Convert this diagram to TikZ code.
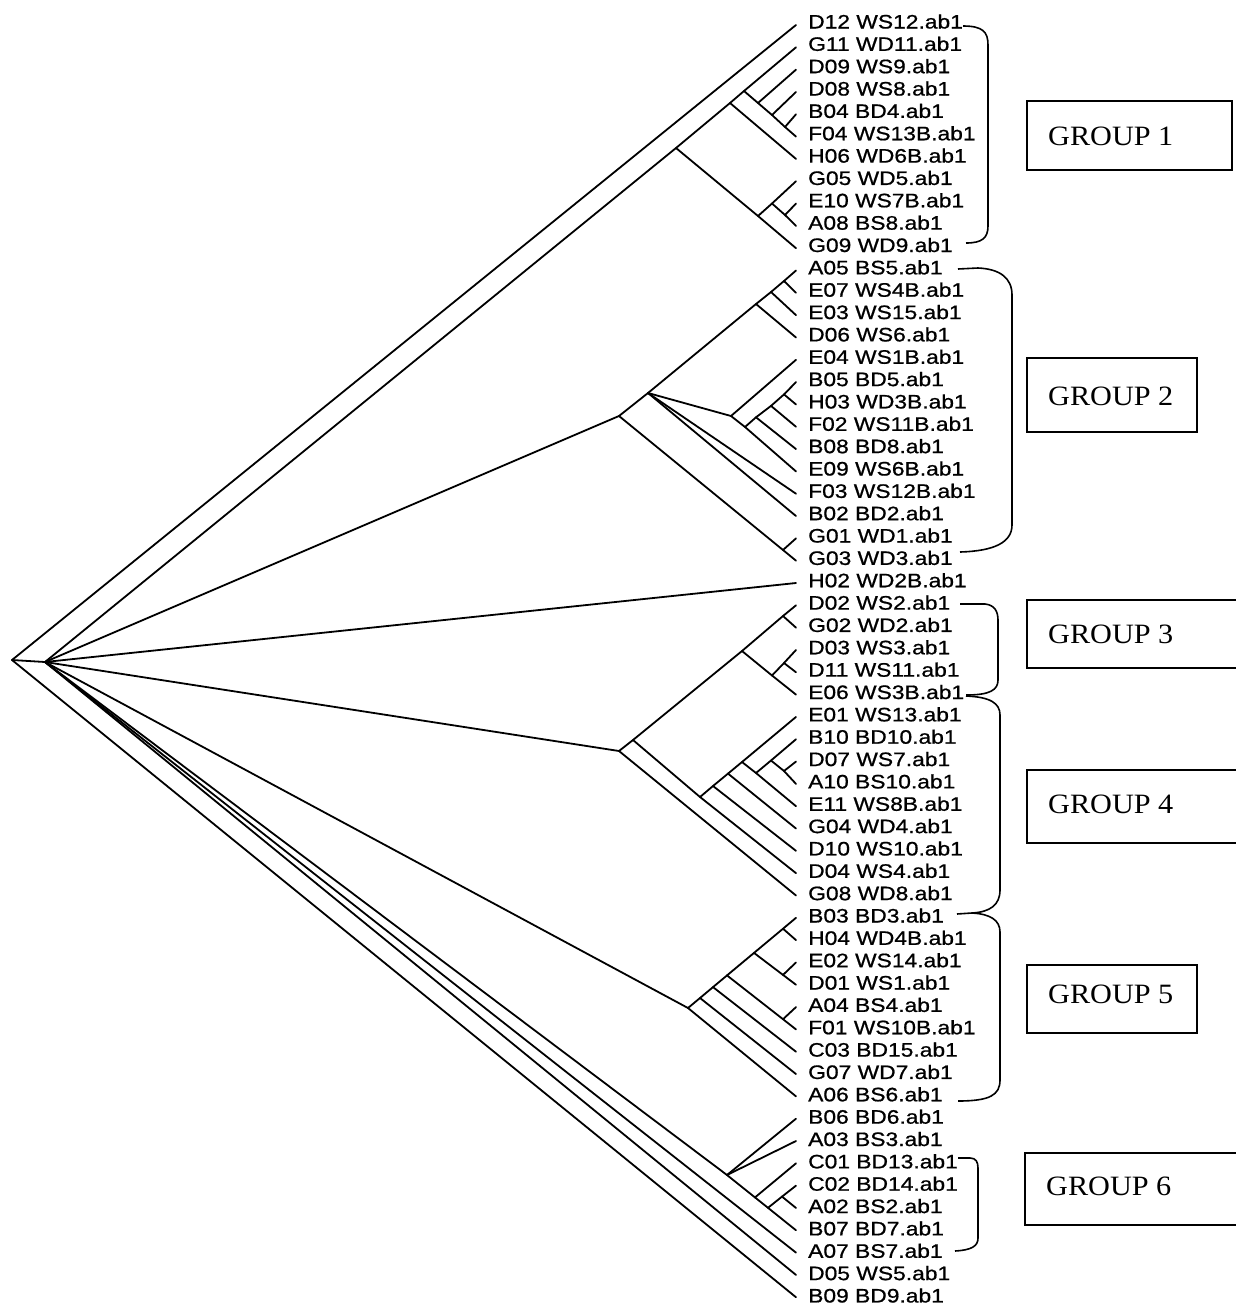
\documentclass[tikz,border=0pt]{standalone}
\usepackage{fontspec}
\newfontfamily\labfont[FakeStretch=1.17,FakeBold=0.8]{Liberation Sans}
\newfontfamily\grpfont[FakeStretch=1.08]{Liberation Serif}
\begin{document}
\begin{tikzpicture}[x=1pt,y=-1pt,
  br/.style={line width=1.8pt,line cap=round,line join=round},
  lab/.style={font=\labfont\fontsize{19.5}{20}\selectfont,inner sep=0pt,anchor=base west},
  grp/.style={font=\grpfont\fontsize{28}{30}\selectfont,inner sep=0pt,anchor=base west},
  gbox/.style={line width=1.3pt},
  brk/.style={line width=1.6pt}]
\useasboundingbox (0,0) rectangle (1236,1304);
% leaves
\foreach \t [count=\i from 0] in {D12 WS12.ab1,G11 WD11.ab1,D09 WS9.ab1,D08 WS8.ab1,B04 BD4.ab1,F04 WS13B.ab1,H06 WD6B.ab1,G05 WD5.ab1,E10 WS7B.ab1,A08 BS8.ab1,G09 WD9.ab1,
A05 BS5.ab1,E07 WS4B.ab1,E03 WS15.ab1,D06 WS6.ab1,E04 WS1B.ab1,B05 BD5.ab1,H03 WD3B.ab1,F02 WS11B.ab1,B08 BD8.ab1,E09 WS6B.ab1,F03 WS12B.ab1,B02 BD2.ab1,G01 WD1.ab1,G03 WD3.ab1,
H02 WD2B.ab1,D02 WS2.ab1,G02 WD2.ab1,D03 WS3.ab1,D11 WS11.ab1,E06 WS3B.ab1,E01 WS13.ab1,B10 BD10.ab1,D07 WS7.ab1,A10 BS10.ab1,E11 WS8B.ab1,G04 WD4.ab1,D10 WS10.ab1,D04 WS4.ab1,G08 WD8.ab1,
B03 BD3.ab1,H04 WD4B.ab1,E02 WS14.ab1,D01 WS1.ab1,A04 BS4.ab1,F01 WS10B.ab1,C03 BD15.ab1,G07 WD7.ab1,A06 BS6.ab1,
B06 BD6.ab1,A03 BS3.ab1,C01 BD13.ab1,C02 BD14.ab1,A02 BS2.ab1,B07 BD7.ab1,A07 BS7.ab1,D05 WS5.ab1,B09 BD9.ab1}
{
  \coordinate (l\i) at (796,25+22.32*\i);
  \node[lab] (t\i) at (808,28.5+22.35*\i) {\t};
}
% internal nodes
\coordinate (R) at (12,660);
\coordinate (N1) at (45,662);
\coordinate (A1) at (676,148);
\coordinate (A2) at (730,103);
\coordinate (A3) at (744,91);
\coordinate (C1) at (758,103);
\coordinate (C2) at (772,115);
\coordinate (C3) at (785,127);
\coordinate (B1) at (758,216);
\coordinate (B2) at (772,203.5);
\coordinate (B3) at (785,215);
\coordinate (G2a) at (619,416);
\coordinate (G2b) at (648,393);
\coordinate (G2c) at (756,304);
\coordinate (G2d) at (771,292);
\coordinate (G2e) at (784,281);
\coordinate (G2f) at (731,416);
\coordinate (G2g) at (745,427);
\coordinate (G2h) at (756,417.3);
\coordinate (G2i) at (771,405.9);
\coordinate (G2j) at (784,394.4);
\coordinate (G2z) at (783,550);
\coordinate (G34) at (619,751);
\coordinate (G34b) at (633,740);
\coordinate (G3) at (742,651);
\coordinate (G3u) at (783,616);
\coordinate (G3d) at (772,675.5);
\coordinate (G3dd) at (784,663);
\coordinate (G4a) at (700,797);
\coordinate (G4b) at (713,786);
\coordinate (G4c) at (728,773.6);
\coordinate (G4d) at (742,762);
\coordinate (G4e) at (756,773);
\coordinate (G4f) at (771,760.5);
\coordinate (G4g) at (784,771);
\coordinate (G5a) at (688,1008);
\coordinate (G5b) at (700,998);
\coordinate (G5c) at (713,987.1);
\coordinate (G5d) at (727,975.4);
\coordinate (G5e) at (754,952.9);
\coordinate (G5g) at (783,928.7);
\coordinate (G5h) at (783,974.9);
\coordinate (G5f) at (783,1019.2);
\coordinate (G6a) at (727,1175);
\coordinate (G6b) at (755,1197.4);
\coordinate (G6c) at (768,1207.8);
\coordinate (G6d) at (782,1196.6);
% branches
\foreach \a/\b in {R/l0,R/N1,R/l57,
 N1/A1,A1/A2,A2/A3,A3/l1,A3/C1,C1/l2,C1/C2,C2/l3,C2/C3,C3/l4,C3/l5,A2/l6,A1/B1,B1/B2,B2/l7,B2/B3,B3/l8,B3/l9,B1/l10,
 N1/G2a,G2a/G2b,G2b/G2c,G2c/G2d,G2d/G2e,G2e/l11,G2e/l12,G2d/l13,G2c/l14,G2b/G2f,G2f/l15,G2f/G2g,G2g/G2h,G2h/G2i,G2i/G2j,G2j/l16,G2j/l17,G2i/l18,G2h/l19,G2g/l20,G2b/l21,G2b/l22,G2a/G2z,G2z/l23,G2z/l24,
 N1/l25,
 N1/G34,G34/G34b,G34b/G3,G3/G3u,G3u/l26,G3u/l27,G3/G3d,G3d/G3dd,G3dd/l28,G3dd/l29,G3d/l30,G34b/G4a,G4a/G4b,G4b/G4c,G4c/G4d,G4d/l31,G4d/G4e,G4e/G4f,G4f/l32,G4f/G4g,G4g/l33,G4g/l34,G4e/l35,G4c/l36,G4b/l37,G4a/l38,G34/l39,
 N1/G5a,G5a/G5b,G5b/G5c,G5c/G5d,G5d/G5e,G5e/G5g,G5g/l40,G5g/l41,G5e/G5h,G5h/l42,G5h/l43,G5d/G5f,G5f/l44,G5f/l45,G5c/l46,G5b/l47,G5a/l48,
 N1/G6a,G6a/l49,G6a/l50,G6a/G6b,G6b/l51,G6b/G6c,G6c/G6d,G6d/l52,G6d/l53,G6c/l54,N1/l55,N1/l56}
 \draw[br] (\a) -- (\b);
% brackets
\draw[brk] (963,26) .. controls (983,26) and (988,32) .. (988,45) -- (988,226) .. controls (988,238) and (982,243) .. (966,243);
\draw[brk] (958,269) -- (978,268) .. controls (1000,269) and (1012,278) .. (1012,295) -- (1012,525) .. controls (1012,542) and (995,551) .. (960,552);
\draw[brk] (960,604) -- (985,604) .. controls (995,605) and (998,612) .. (998,620) -- (998,680) .. controls (998,690) and (990,695) .. (966,695);
\draw[brk] (966,696) .. controls (990,697) and (1000,703) .. (1000,715) -- (1000,890) .. controls (1000,905) and (990,912) .. (972,913);
\draw[brk] (957,914) -- (972,913) .. controls (990,914) and (1000,920) .. (1000,932) -- (1000,1080) .. controls (1000,1095) and (990,1101) .. (958,1101);
\draw[brk] (958,1158) -- (970,1158) .. controls (976,1158) and (978,1162) .. (978,1168) -- (978,1238) .. controls (978,1246) and (972,1250) .. (955,1251);
% group boxes
\draw[gbox] (1027,101) rectangle (1232,170);
\node[grp] (g1) at (1048,145) {GROUP 1};
\draw[gbox] (1027,358) rectangle (1197,432);
\node[grp] (g2) at (1048,405) {GROUP 2};
\draw[gbox] (1027,600) rectangle (1240,668);
\node[grp] (g3) at (1048,643) {GROUP 3};
\draw[gbox] (1027,770) rectangle (1240,843);
\node[grp] (g4) at (1048,813) {GROUP 4};
\draw[gbox] (1027,965) rectangle (1197,1033);
\node[grp] (g5) at (1048,1003) {GROUP 5};
\draw[gbox] (1025,1153) rectangle (1240,1225);
\node[grp] (g6) at (1046,1195) {GROUP 6};
\end{tikzpicture}
\end{document}
